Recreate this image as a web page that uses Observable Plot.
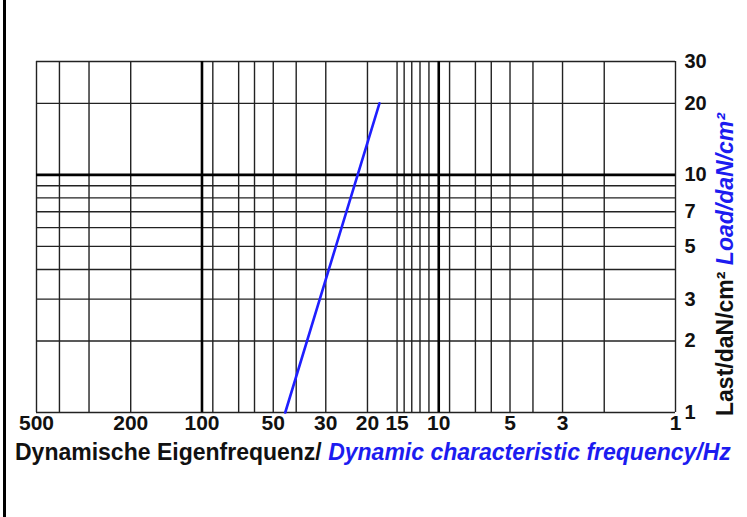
<!DOCTYPE html>
<html>
<head>
<meta charset="utf-8">
<script src="https://cdn.jsdelivr.net/npm/d3@7"></script>
<script src="https://cdn.jsdelivr.net/npm/@observablehq/plot@0.6"></script>
<style>
  html, body { margin: 0; padding: 0; background: white; }
  #wrap { position: relative; width: 747px; height: 517px; overflow: hidden; }
  #edge { position: absolute; left: 3px; top: 0; width: 3px; height: 517px; background: #000; z-index: 2; }
</style>
</head>
<body>
<div id="wrap"><div id="edge"></div></div>
<script>
// Tick labels
const xTickLabels = [500, 200, 100, 50, 30, 20, 15, 10, 5, 3, 1];
const yTickLabels = [30, 20, 10, 7, 5, 3, 2, 1];
// Grid lines
const xGridLines = [500, 400, 300, 200, 100, 90, 70, 60, 50, 40, 30, 20, 15, 14, 13, 12, 11, 10, 9, 7, 6, 5, 4, 3, 2, 1];
const yGridLines = [30, 20, 10, 9, 8, 7, 6, 5, 4, 3, 2, 1];
const xMajorLines = [100, 10];
const yMajorLines = [10];
// Series: dynamic characteristic frequency (Hz) vs load (daN/cm²)
const frequency = [44.5, 17.8];
const load = [1, 20];

const series = frequency.map((f, i) => ({f, l: load[i]}));
const FONT = "'Liberation Sans', Arial, sans-serif";

const chart = Plot.plot({
  width: 747,
  height: 517,
  marginLeft: 36,
  marginRight: 72,
  marginTop: 61,
  marginBottom: 105,
  style: {fontFamily: FONT, background: "white", color: "#111"},
  x: {type: "log", domain: [500, 1], axis: null},
  y: {type: "log", domain: [1, 30], axis: null},
  marks: [
    Plot.ruleX(xGridLines, {x: d => d, stroke: "#222", strokeWidth: 1.4}),
    Plot.ruleY(yGridLines, {y: d => d, stroke: "#222", strokeWidth: 1.4}),
    Plot.ruleX(xMajorLines, {x: d => d, stroke: "#000", strokeWidth: 2.6}),
    Plot.ruleY(yMajorLines, {y: d => d, stroke: "#000", strokeWidth: 2.6}),
    Plot.line(series, {x: "f", y: "l", stroke: "#1f1fff", strokeWidth: 2.6}),
    Plot.text(xTickLabels, {x: d => d, frameAnchor: "bottom", dy: 17, text: d => String(d),
      fontSize: 21, fontWeight: "bold", fill: "#111", textAnchor: "middle"}),
    Plot.text(yTickLabels, {y: d => d, frameAnchor: "right", dx: 9, text: d => String(d),
      fontSize: 20, fontWeight: "bold", fill: "#111", textAnchor: "start"})
  ]
});

document.getElementById("wrap").appendChild(chart);

const svg = d3.select(chart);
const xt = svg.append("text")
  .attr("x", 15).attr("y", 460)
  .attr("text-anchor", "start")
  .attr("font-size", 23).attr("font-weight", "bold")
  .attr("font-family", FONT);
xt.append("tspan").attr("fill", "#111").text("Dynamische Eigenfrequenz/ ");
xt.append("tspan").attr("fill", "#1c1cf0").attr("font-style", "italic").text("Dynamic characteristic frequency/Hz");

const yt = svg.append("text")
  .attr("transform", "translate(733,416) rotate(-90)")
  .attr("text-anchor", "start")
  .attr("font-size", 23).attr("font-weight", "bold")
  .attr("font-family", FONT);
yt.append("tspan").attr("fill", "#111").text("Last/daN/cm² ");
yt.append("tspan").attr("fill", "#1c1cf0").attr("font-style", "italic").text("Load/daN/cm²");
</script>
</body>
</html>
